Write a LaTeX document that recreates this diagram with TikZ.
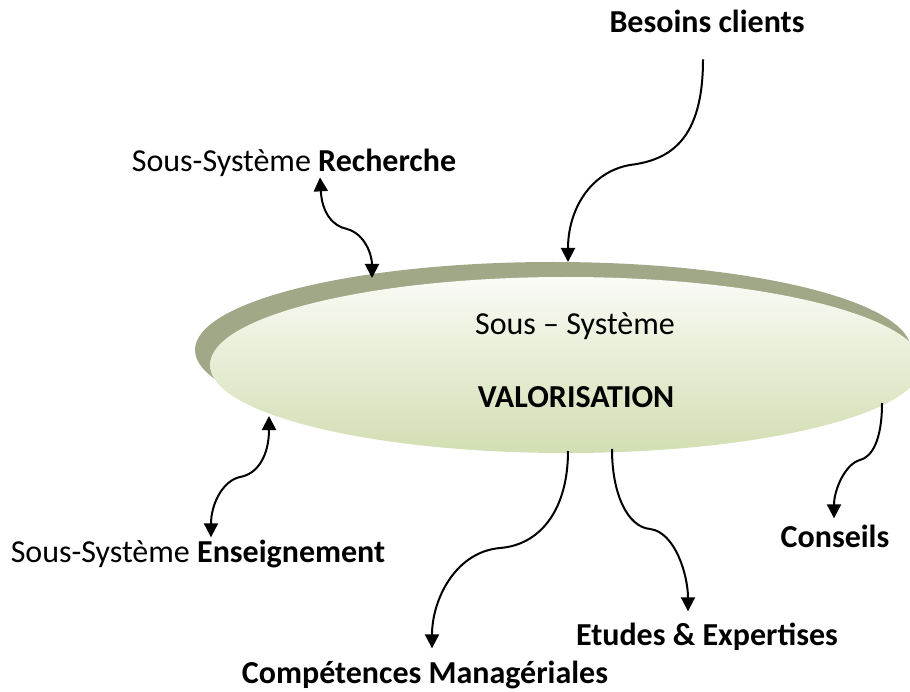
\documentclass[tikz,border=0pt]{standalone}
\usepackage{fontspec}
\setmainfont{Carlito}
\usetikzlibrary{arrows.meta}
\definecolor{rimgreen}{RGB}{160,168,135}
\definecolor{discbot}{RGB}{210,222,178}
\definecolor{disctop}{RGB}{250,251,246}

\begin{document}
\begin{tikzpicture}[x=1pt,y=-1pt,
  lien/.style={line width=2pt,-{Triangle[length=14pt,width=14pt]}},
  lien2/.style={line width=2pt,{Triangle[length=14pt,width=14pt]}-{Triangle[length=14pt,width=14pt]}},
  etiq/.style={inner sep=0pt,anchor=base,font=\fontsize{32}{36}\selectfont}]
\useasboundingbox (0,0) rectangle (910,692);
\clip (0,0) rectangle (910,692);
\fill[rimgreen] (553,350) ellipse [x radius=358, y radius=88];
\shade[top color=disctop,bottom color=discbot] (566,365) ellipse [x radius=356, y radius=88];
\node[etiq] (sous) at (575,335) {Sous -- Système};
\node[etiq] (valo) at (576,407) {\textbf{VALORISATION}};
\node[etiq] (besoins) at (707,33) {\textbf{Besoins clients}};
\node[etiq] (recherche) at (294,172) {Sous-Système \textbf{Recherche}};
\node[etiq] (enseig) at (198,562) {Sous-Système \textbf{Enseignement}};
\node[etiq] (conseils) at (835,547) {\textbf{Conseils}};
\node[etiq] (etudes) at (707,645) {\textbf{Etudes \& Expertises}};
\node[etiq] (compet) at (425,683) {\textbf{Compétences Managériales}};
\coordinate (v-besoins) at (568,262);
\coordinate (v-recherche) at (372,278);
\coordinate (v-enseig) at (269,416);
\coordinate (v-conseils) at (882,403);
\coordinate (v-etudes) at (612,449);
\coordinate (v-compet) at (568,451);
\draw[lien] ([xshift=-4pt,yshift=-26pt]besoins.south) .. controls (703,140) and (670,160) .. (630,165)
  .. controls (590,172) and (568,210) .. (v-besoins);
\draw[lien2] ([xshift=26pt]recherche.south) .. controls (322,212) and (332,226) .. (347,229)
  .. controls (365,234) and (372,255) .. (v-recherche);
\draw[lien2] (v-enseig) .. controls (269,455) and (258,474) .. (240,477)
  .. controls (222,481) and (211,505) .. ([xshift=13pt,yshift=2pt]enseig.north);
\draw[lien] (v-conseils) .. controls (882,440) and (872,457) .. (860,460)
  .. controls (845,464) and (834,490) .. ([xshift=-1pt,yshift=6pt]conseils.north);
\draw[lien] (v-etudes) .. controls (612,495) and (628,527) .. (650,529)
  .. controls (675,532) and (688,575) .. ([xshift=-19pt,yshift=11pt]etudes.north);
\draw[lien] (v-compet) .. controls (568,510) and (540,545) .. (500,548)
  .. controls (455,552) and (432,600) .. ([xshift=7pt,yshift=12pt]compet.north);
\end{tikzpicture}
\end{document}
